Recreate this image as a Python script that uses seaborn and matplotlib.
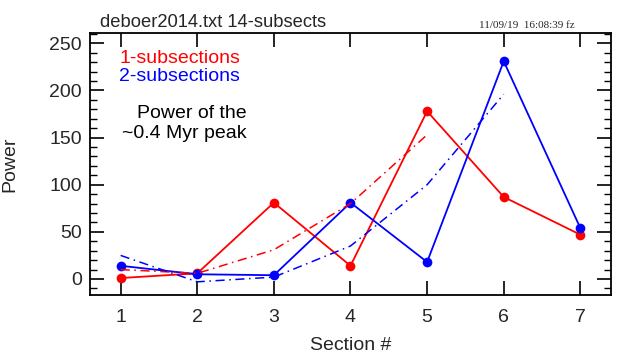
import numpy as np
import pandas as pd
import seaborn as sns
import matplotlib
matplotlib.use('Agg')
import matplotlib.pyplot as plt
from matplotlib.ticker import MultipleLocator

# values
sections = [1, 2, 3, 4, 5, 6, 7]
power_1sub = [1, 6, 81, 14, 178, 87, 47]
power_2sub = [14, 5, 4, 81, 18, 231, 54]
trend_1sub_x = [1, 2, 3, 4, 5]
trend_1sub = [10, 6, 31, 80, 153]
trend_2sub_x = [1, 2, 3, 4, 5, 6]
trend_2sub = [25, -3, 2, 35, 100, 196]

sns.set_style("ticks")
plt.rcParams['font.family'] = ['Liberation Sans', 'DejaVu Sans']

fig = plt.figure(figsize=(6.4, 3.61), dpi=100)
ax = fig.add_axes([0.1406, 0.1828, 0.8141, 0.7258])

dashdot = (0, (6, 3, 1, 3))
sns.lineplot(x=sections, y=power_1sub, ax=ax, color='red', marker='o',
             markersize=7, markeredgewidth=0, linewidth=1.3)
sns.lineplot(x=sections, y=power_2sub, ax=ax, color='blue', marker='o',
             markersize=7, markeredgewidth=0, linewidth=1.3)
sns.lineplot(x=trend_1sub_x, y=trend_1sub, ax=ax, color='red', linestyle=dashdot, linewidth=1.1)
sns.lineplot(x=trend_2sub_x, y=trend_2sub, ax=ax, color='blue', linestyle=dashdot, linewidth=1.1)

ax.set_xlim(0.6, 7.4)
ax.set_ylim(-17, 261)
ax.xaxis.set_major_locator(MultipleLocator(1))
ax.yaxis.set_major_locator(MultipleLocator(50))
ax.yaxis.set_minor_locator(MultipleLocator(10))
ax.tick_params(which='both', direction='in', top=True, right=True, labelsize=14, color='black')
ax.tick_params(which='major', length=10, width=1.2)
ax.tick_params(which='minor', length=5, width=1.0)
ax.tick_params(axis='x', pad=10)
ax.tick_params(axis='y', pad=6)
for s in ax.spines.values():
    s.set_linewidth(1.3)
    s.set_color('black')

ax.set_xlabel('Section #', fontsize=14, labelpad=8)
ax.set_ylabel('Power', fontsize=14, labelpad=22)

ax.text(0.056, 0.885, '1-subsections', color='red', fontsize=14, transform=ax.transAxes)
ax.text(0.056, 0.815, '2-subsections', color='blue', fontsize=14, transform=ax.transAxes)
ax.text(0.09, 0.675, 'Power of the', color='black', fontsize=14, transform=ax.transAxes)
ax.text(0.062, 0.598, '~0.4 Myr peak', color='black', fontsize=14, transform=ax.transAxes)

fig.text(0.156, 0.925, 'deboer2014.txt 14-subsects', fontsize=13.2)
fig.text(0.748, 0.922, '11/09/19  16:08:39 fz', fontsize=8, family='Liberation Serif')

fig.savefig('out.png', dpi=100)
